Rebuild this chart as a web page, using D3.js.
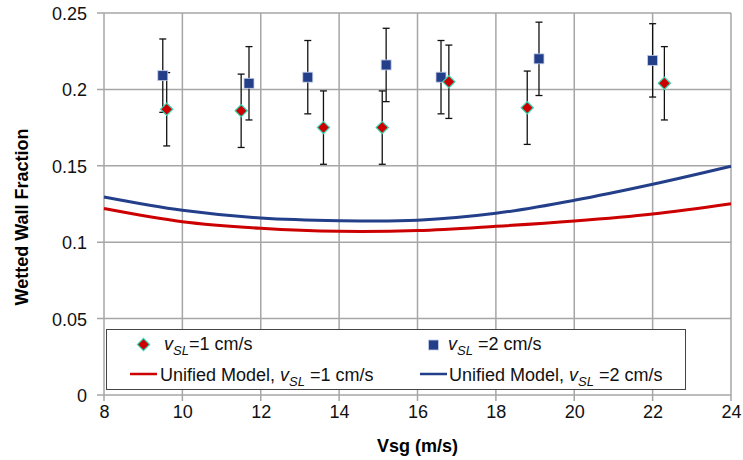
<!DOCTYPE html>
<html>
<head>
<meta charset="utf-8">
<script src="https://cdn.jsdelivr.net/npm/d3@7"></script>
<style>
  body { margin: 0; background: #fff; }
  text { font-family: "Liberation Sans", Arial, sans-serif; }
</style>
</head>
<body>
<div id="chart"></div>
<script>
// measured data, vSL = 1 cm/s (diamonds)
const vsg1 = [9.6, 11.5, 13.6, 15.1, 16.8, 18.8, 22.3]
const wwf1 = [0.187, 0.186, 0.175, 0.175, 0.205, 0.188, 0.204]
const err1 = [0.024, 0.024, 0.024, 0.024, 0.024, 0.024, 0.024]

// measured data, vSL = 2 cm/s (squares)
const vsg2 = [9.5, 11.7, 13.2, 15.2, 16.6, 19.1, 22.0]
const wwf2 = [0.209, 0.204, 0.208, 0.216, 0.208, 0.220, 0.219]
const err2 = [0.024, 0.024, 0.024, 0.024, 0.024, 0.024, 0.024]

// unified model curves
const modelVsg = [8, 10, 12, 14, 16, 18, 20, 22, 24]
const model1 = [0.122, 0.1134, 0.1091, 0.1071, 0.1076, 0.1104, 0.1139, 0.1185, 0.1252]
const model2 = [0.1296, 0.1209, 0.1158, 0.1141, 0.1144, 0.1189, 0.1274, 0.1379, 0.1497]

const xTicks = [8, 10, 12, 14, 16, 18, 20, 22, 24]
const yTicks = [0, 0.05, 0.1, 0.15, 0.2, 0.25]

const W = 743, H = 460
const margin = { top: 13, right: 12, bottom: 65, left: 104 }

const RED = '#cc0000'
const BLUE = '#243f8a'
const GRID = '#a6a6a6'

const svg = d3.select('#chart').append('svg')
  .attr('width', W).attr('height', H)

const x = d3.scaleLinear().domain([8, 24]).range([margin.left, W - margin.right])
const y = d3.scaleLinear().domain([0, 0.25]).range([H - margin.bottom, margin.top])

// grid
svg.append('g').selectAll('line').data(xTicks).enter().append('line')
  .attr('x1', d => x(d)).attr('x2', d => x(d))
  .attr('y1', y(0.25)).attr('y2', y(0) + 6)
  .attr('stroke', GRID).attr('stroke-width', 1.5)
svg.append('g').selectAll('line').data(yTicks).enter().append('line')
  .attr('x1', x(8) - 7).attr('x2', x(24))
  .attr('y1', d => y(d)).attr('y2', d => y(d))
  .attr('stroke', GRID).attr('stroke-width', 1.5)

// axes (labels only, lines drawn by the grid)
const fmt = d => d === 0 ? '0' : String(+d.toFixed(2))
const yAxis = svg.append('g')
  .attr('transform', `translate(${x(8) - 17},0)`)
  .call(d3.axisLeft(y).tickValues(yTicks).tickFormat(fmt).tickSize(0).tickPadding(0))
const xAxis = svg.append('g')
  .attr('transform', `translate(0,${y(0) + 10})`)
  .call(d3.axisBottom(x).tickValues(xTicks).tickSize(0).tickPadding(0))
;[yAxis, xAxis].forEach(a => {
  a.select('.domain').remove()
  a.selectAll('text')
    .attr('font-family', '"Liberation Sans", Arial, sans-serif')
    .attr('font-size', 18).attr('fill', '#111')
})
yAxis.selectAll('text').attr('dy', '0.36em')

// axis titles
svg.append('text')
  .attr('x', (x(8) + x(24)) / 2).attr('y', 452)
  .attr('text-anchor', 'middle')
  .attr('font-size', 18).attr('font-weight', 'bold')
  .text('Vsg (m/s)')
svg.append('text')
  .attr('transform', `translate(28,217) rotate(-90)`)
  .attr('text-anchor', 'middle')
  .attr('font-size', 18).attr('font-weight', 'bold')
  .text('Wetted Wall Fraction')

// model lines
const line = d3.line()
  .x(d => x(d[0])).y(d => y(d[1]))
  .curve(d3.curveCatmullRom.alpha(0.5))
svg.append('path')
  .datum(modelVsg.map((v, i) => [v, model1[i]]))
  .attr('d', line).attr('fill', 'none')
  .attr('stroke', RED).attr('stroke-width', 3)
svg.append('path')
  .datum(modelVsg.map((v, i) => [v, model2[i]]))
  .attr('d', line).attr('fill', 'none')
  .attr('stroke', BLUE).attr('stroke-width', 3)

// error bars
function errorBars(xs, ys, es) {
  const g = svg.append('g')
  xs.forEach((v, i) => {
    const cx = x(v), top = y(ys[i] + es[i]), bot = y(ys[i] - es[i])
    g.append('line').attr('x1', cx).attr('x2', cx).attr('y1', top).attr('y2', bot)
      .attr('stroke', '#111').attr('stroke-width', 1.3)
    ;[top, bot].forEach(yy => g.append('line')
      .attr('x1', cx - 3.5).attr('x2', cx + 3.5).attr('y1', yy).attr('y2', yy)
      .attr('stroke', '#111').attr('stroke-width', 1.3))
  })
}
errorBars(vsg2, wwf2, err2)
errorBars(vsg1, wwf1, err1)

const diamond = (g, cx, cy) => g.append('rect')
  .attr('x', -4.3).attr('y', -4.3).attr('width', 8.6).attr('height', 8.6)
  .attr('transform', `translate(${cx},${cy}) rotate(45)`)
  .attr('fill', RED).attr('stroke', '#33d6b0').attr('stroke-width', 1.2)
const square = (g, cx, cy) => g.append('rect')
  .attr('x', cx - 5).attr('y', cy - 5).attr('width', 10).attr('height', 10)
  .attr('fill', BLUE).attr('stroke', '#c8d0e8').attr('stroke-width', 0.8)

const pts = svg.append('g')
vsg2.forEach((v, i) => square(pts, x(v), y(wwf2[i])))
vsg1.forEach((v, i) => diamond(pts, x(v), y(wwf1[i])))

// legend
const lg = svg.append('g')
lg.append('rect')
  .attr('x', 106.5).attr('y', 329.5).attr('width', 579).attr('height', 60)
  .attr('fill', '#fff').attr('stroke', '#444').attr('stroke-width', 1)

function vslLabel(tx, ty, before, after) {
  const t = lg.append('text').attr('x', tx).attr('y', ty).attr('font-size', 18).attr('fill', '#111')
  if (before) t.append('tspan').text(before)
  t.append('tspan').attr('font-style', 'italic').text('v')
  t.append('tspan').attr('font-style', 'italic').attr('font-size', 13).attr('dy', 5).text('SL')
  t.append('tspan').attr('dy', -5).text(after)
}

diamond(lg, 143.5, 344.5)
vslLabel(164, 350, null, '=1 cm/s')
square(lg, 433.5, 345)
vslLabel(448, 350, null, ' =2 cm/s')

lg.append('line').attr('x1', 130).attr('x2', 157).attr('y1', 374).attr('y2', 374)
  .attr('stroke', RED).attr('stroke-width', 2.5)
vslLabel(160, 381, 'Unified Model, ', ' =1 cm/s')
lg.append('line').attr('x1', 420).attr('x2', 447).attr('y1', 374).attr('y2', 374)
  .attr('stroke', BLUE).attr('stroke-width', 2.5)
vslLabel(449, 381, 'Unified Model, ', ' =2 cm/s')
</script>
</body>
</html>
